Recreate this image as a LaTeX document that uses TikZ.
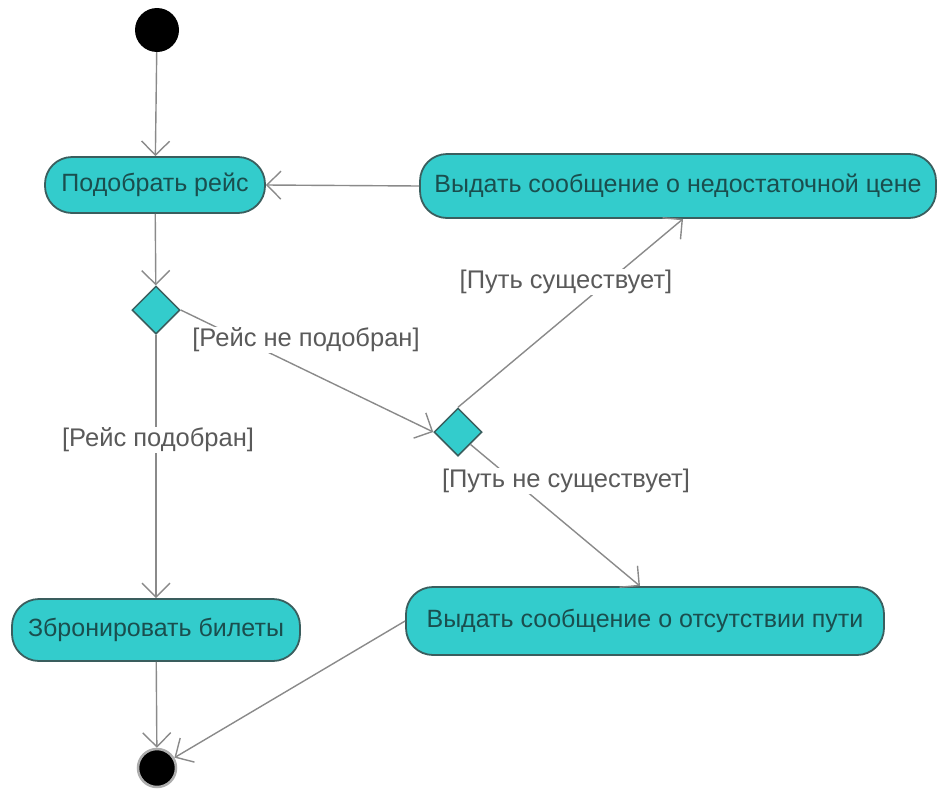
\documentclass[tikz,border=0pt]{standalone}
\usepackage{fontspec}
\setmainfont{Liberation Sans}
\usetikzlibrary{arrows.meta,shapes.geometric,calc}
\definecolor{turq}{HTML}{33CCCC}
\definecolor{edgec}{HTML}{3A5E5E}
\definecolor{linec}{HTML}{8A8A8A}
\definecolor{labc}{HTML}{5A5A5A}
\definecolor{txtc}{HTML}{1A4E4E}
\begin{document}
\begin{tikzpicture}[x=1pt,y=-1pt,
  actbox/.style={draw=edgec,line width=1.8pt,fill=turq,rounded corners=27pt,inner sep=0pt,
    font=\fontsize{25}{29}\selectfont,text=txtc,align=center},
  decis/.style={diamond,draw=edgec,line width=1.5pt,fill=turq,minimum width=48pt,minimum height=48pt,inner sep=0pt},
  flow/.style={draw=linec,line width=1.4pt,-{Straight Barb[length=14pt,width=28pt,line width=1.4pt]}},
  guard/.style={fill=white,text=labc,font=\fontsize{25.5}{29}\selectfont,inner sep=1pt}
]
\useasboundingbox (0,0) rectangle (939,790);
\node[circle,fill=black,minimum size=44pt,inner sep=0pt] (start) at (157,30) {};
\node[actbox,minimum width=220pt,minimum height=56pt] (pick) at (155,185) {Подобрать рейс};
\node[actbox,minimum width=516pt,minimum height=64pt] (price) at (678,186) {Выдать сообщение о недостаточной цене};
\node[decis] (d1) at (156,310) {};
\node[decis] (d2) at (458,432) {};
\node[actbox,minimum width=288pt,minimum height=62pt] (book) at (156,630) {Збронировать билеты};
\node[actbox,minimum width=478pt,minimum height=68pt] (nopath) at (645,621) {Выдать сообщение о отсутствии пути};
\node[circle,fill=black,draw=linec!70,line width=2.5pt,minimum size=38pt,inner sep=0pt] (end) at (157,768) {};

\draw[flow] (start) -- (pick);
\draw[flow] (price.west) -- (pick.east);
\draw[flow] (pick) -- (d1);
\draw[flow] (d1) -- (book);
\draw[flow] (d1.east) -- (d2.west);
\draw[flow] (d2.north) -- ([xshift=5pt]price.south);
\draw[flow] (d2.south east) -- ([xshift=-5pt]nopath.north);
\draw[flow] (book) -- (end);
\draw[flow] (nopath.west) -- (end);

\node[guard] (g1) at (158,440) {[Рейс подобран]};
\node[guard] (g2) at (306,340) {[Рейс не подобран]};
\node[guard] (g3) at (566,282) {[Путь существует]};
\node[guard] (g4) at (566,481) {[Путь не существует]};
\end{tikzpicture}
\end{document}
